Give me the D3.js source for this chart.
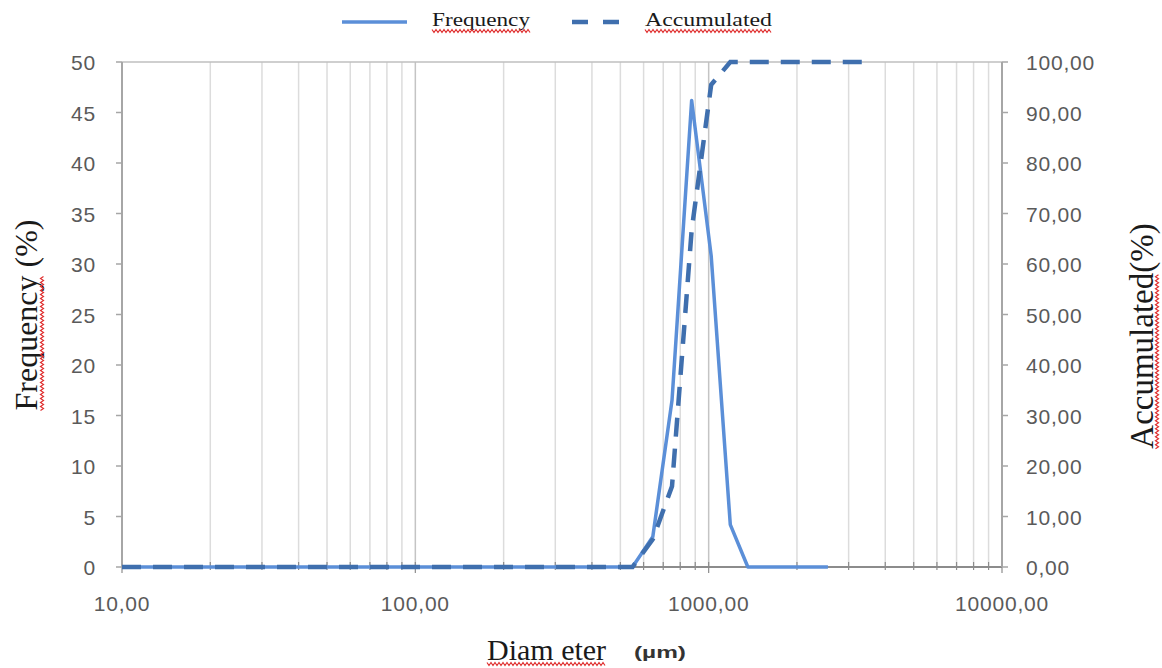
<!DOCTYPE html>
<html>
<head>
<meta charset="utf-8">
<script src="https://cdn.jsdelivr.net/npm/d3@7"></script>
<style>
  body { margin: 0; background: #fff; }
  .tick-lab { font-family: "Liberation Sans", Arial, sans-serif; font-size: 21px; fill: #5a5a5a; letter-spacing: 0.8px; }
  .title { font-family: "Liberation Serif", "Times New Roman", serif; fill: #1a1a1a; }
</style>
</head>
<body>
<div id="chart"></div>
<script>
// frequency series (diameter in µm, %)
var freqDiam = [10, 550, 645, 750, 875, 1020, 1185, 1360, 2550];
var freqVals = [0, 0, 3, 16.5, 46.2, 30.8, 4.2, 0, 0];

// accumulated series
var accDiam = [10, 550, 645, 750, 875, 1020, 1185, 3550];
var accVals = [0, 0, 5.5, 16, 66.7, 95.5, 100, 100];

var xTicks = [10, 100, 1000, 10000];
var freqTicks = [0, 5, 10, 15, 20, 25, 30, 35, 40, 45, 50];
var accTicks = [0, 10, 20, 30, 40, 50, 60, 70, 80, 90, 100];

var m = {left: 122, right: 160, top: 62, bottom: 101};
var w = 1162 - m.left - m.right;
var h = 668 - m.top - m.bottom;

var svg = d3.select("#chart")
  .append("svg")
  .attr("width", 1162)
  .attr("height", 668);

var g = svg.append("g")
  .attr("transform", "translate(" + m.left + "," + m.top + ")");

var x = d3.scaleLog().domain([10, 10000]).range([0, w]);
var yF = d3.scaleLinear().domain([0, 50]).range([h, 0]);
var yA = d3.scaleLinear().domain([0, 100]).range([h, 0]);

var comma2 = function(v) { return d3.format(".2f")(v).replace(".", ","); };

// vertical grid lines on every log step
var gridVals = [];
[10, 100, 1000].forEach(function(dec) {
  for (var k = 1; k <= 9; k++) gridVals.push(dec * k);
});
gridVals.push(10000);

g.append("g")
  .selectAll("line")
  .data(gridVals.filter(function(d) { return d > 10 && d < 10000; }))
  .enter()
  .append("line")
  .attr("x1", function(d) { return x(d); })
  .attr("x2", function(d) { return x(d); })
  .attr("y1", 0)
  .attr("y2", h)
  .attr("stroke", function(d) { return (d == 100 || d == 1000) ? "#c4c4c4" : "#dcdcdc"; })
  .attr("stroke-width", 1.5);

// top border
g.append("line")
  .attr("x1", 0).attr("x2", w).attr("y1", 0).attr("y2", 0)
  .attr("stroke", "#bfbfbf").attr("stroke-width", 1.5);

// bottom axis
g.append("line")
  .attr("x1", 0).attr("x2", w).attr("y1", h).attr("y2", h)
  .attr("stroke", "#8c8c8c").attr("stroke-width", 2);

g.append("g")
  .selectAll("line")
  .data(gridVals)
  .enter()
  .append("line")
  .attr("x1", function(d) { return x(d); })
  .attr("x2", function(d) { return x(d); })
  .attr("y1", h - 5)
  .attr("y2", function(d) { return xTicks.indexOf(d) >= 0 ? h + 6 : h + 3; })
  .attr("stroke", "#8c8c8c")
  .attr("stroke-width", 1.2);

g.append("g")
  .selectAll("text")
  .data(xTicks)
  .enter()
  .append("text")
  .attr("class", "tick-lab")
  .attr("x", function(d) { return x(d); })
  .attr("y", h + 44)
  .attr("text-anchor", "middle")
  .text(comma2);

// left axis
g.append("line")
  .attr("x1", 0).attr("x2", 0).attr("y1", 0).attr("y2", h)
  .attr("stroke", "#a6a6a6").attr("stroke-width", 2);

g.append("g")
  .selectAll("line")
  .data(freqTicks)
  .enter()
  .append("line")
  .attr("x1", -6).attr("x2", 0)
  .attr("y1", function(d) { return yF(d); })
  .attr("y2", function(d) { return yF(d); })
  .attr("stroke", "#a6a6a6").attr("stroke-width", 1.5);

g.append("g")
  .selectAll("text")
  .data(freqTicks)
  .enter()
  .append("text")
  .attr("class", "tick-lab")
  .attr("x", -26)
  .attr("y", function(d) { return yF(d) + 8; })
  .attr("text-anchor", "end")
  .text(function(d) { return d; });

// right axis
g.append("line")
  .attr("x1", w).attr("x2", w).attr("y1", 0).attr("y2", h)
  .attr("stroke", "#a6a6a6").attr("stroke-width", 2);

g.append("g")
  .selectAll("line")
  .data(accTicks)
  .enter()
  .append("line")
  .attr("x1", w).attr("x2", w + 6)
  .attr("y1", function(d) { return yA(d); })
  .attr("y2", function(d) { return yA(d); })
  .attr("stroke", "#a6a6a6").attr("stroke-width", 1.5);

g.append("g")
  .selectAll("text")
  .data(accTicks)
  .enter()
  .append("text")
  .attr("class", "tick-lab")
  .attr("x", w + 24)
  .attr("y", function(d) { return yA(d) + 8; })
  .attr("text-anchor", "start")
  .text(comma2);

// lines
var freqLine = d3.line()
  .x(function(d) { return x(d[0]); })
  .y(function(d) { return yF(d[1]); });

var accLine = d3.line()
  .x(function(d) { return x(d[0]); })
  .y(function(d) { return yA(d[1]); });

g.append("path")
  .datum(freqDiam.map(function(d, i) { return [d, freqVals[i]]; }))
  .attr("d", freqLine)
  .attr("fill", "none")
  .attr("stroke", "#5b8fd8")
  .attr("stroke-width", 3.5)
  .attr("stroke-linejoin", "round");

g.append("path")
  .datum(accDiam.map(function(d, i) { return [d, accVals[i]]; }))
  .attr("d", accLine)
  .attr("fill", "none")
  .attr("stroke", "#3f6fae")
  .attr("stroke-width", 4.5)
  .attr("stroke-dasharray", "19,12");

// red spell-check squiggle under the first n characters of a text element
function squiggle(node, n) {
  var x0 = node.getStartPositionOfChar(0).x;
  var len = node.getSubStringLength(0, n);
  var pts = [];
  for (var i = 0; i <= len; i += 2) pts.push([x0 + i, (i / 2) % 2 ? 1.5 : -1.5]);
  return d3.line()(pts);
}

function addSquiggle(parent, textSel, dy, n) {
  parent.append("path")
    .attr("d", squiggle(textSel.node(), n))
    .attr("transform", "translate(0," + dy + ")")
    .attr("fill", "none").attr("stroke", "#e03030").attr("stroke-width", 1.2);
}

// axis titles
var fTitle = svg.append("g")
  .attr("transform", "translate(37,315) rotate(-90)");
var fText = fTitle.append("text")
  .attr("class", "title")
  .attr("text-anchor", "middle")
  .style("font-size", "32px")
  .text("Frequency (%)");
addSquiggle(fTitle, fText, 5, 9);

var aTitle = svg.append("g")
  .attr("transform", "translate(1153,336) rotate(-90)");
var aText = aTitle.append("text")
  .attr("class", "title")
  .attr("text-anchor", "middle")
  .style("font-size", "33px")
  .text("Accumulated(%)");
addSquiggle(aTitle, aText, 4, 11);

var dText = svg.append("text")
  .attr("class", "title")
  .attr("x", 487)
  .attr("y", 660)
  .style("font-size", "30px")
  .text("Diam eter");
addSquiggle(svg, dText, 664, 9);

svg.append("text")
  .attr("x", 634)
  .attr("y", 658)
  .attr("textLength", 52)
  .attr("lengthAdjust", "spacingAndGlyphs")
  .style("font-family", "'Liberation Sans', Arial, sans-serif")
  .style("font-size", "17px")
  .style("font-weight", "bold")
  .style("fill", "#333")
  .text("(µm)");

// legend
svg.append("line")
  .attr("x1", 342).attr("x2", 407).attr("y1", 22).attr("y2", 22)
  .attr("stroke", "#5b8fd8").attr("stroke-width", 3.5);

var lf = svg.append("text")
  .attr("class", "title")
  .attr("x", 432).attr("y", 26)
  .attr("textLength", 98)
  .attr("lengthAdjust", "spacingAndGlyphs")
  .style("font-size", "19px")
  .text("Frequency");
addSquiggle(svg, lf, 31, 9);

svg.append("line")
  .attr("x1", 572).attr("x2", 622).attr("y1", 22).attr("y2", 22)
  .attr("stroke", "#3f6fae").attr("stroke-width", 4.5)
  .attr("stroke-dasharray", "16,15");

var la = svg.append("text")
  .attr("class", "title")
  .attr("x", 645).attr("y", 26)
  .attr("textLength", 127)
  .attr("lengthAdjust", "spacingAndGlyphs")
  .style("font-size", "19px")
  .text("Accumulated");
addSquiggle(svg, la, 31, 11);
</script>
</body>
</html>
